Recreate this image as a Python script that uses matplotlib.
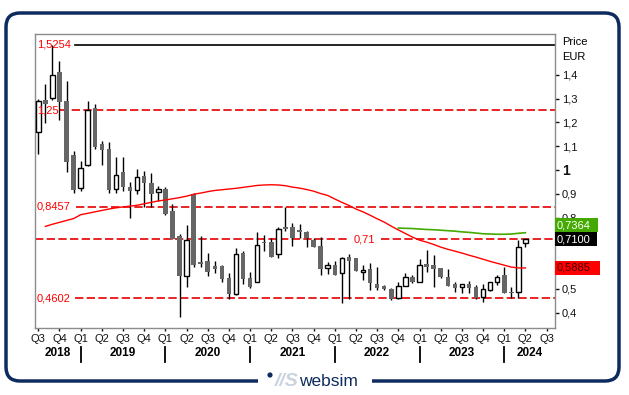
import matplotlib
matplotlib.use('Agg')
import matplotlib.pyplot as plt
import matplotlib.transforms as mtransforms
from matplotlib.patches import FancyBboxPatch, Rectangle, Circle

plt.rcParams['font.family'] = ['Liberation Sans', 'DejaVu Sans']

# monthly candles, Jul 2018 .. Apr 2024 (index 0 = Jul 2018)
opens = [1.158, 1.294, 1.301, 1.413, 1.291, 1.063, 0.924, 1.021, 1.261, 1.109,
         1.088, 0.919, 0.993, 0.929, 0.917, 0.976, 0.944, 0.906, 0.920, 0.829,
         0.723, 0.556, 0.898, 0.613, 0.619, 0.598, 0.598, 0.547, 0.478, 0.651,
         0.547, 0.531, 0.697, 0.697, 0.646, 0.760, 0.760, 0.748, 0.738, 0.706,
         0.681, 0.587, 0.600, 0.566, 0.633, 0.629, 0.570, 0.584, 0.521, 0.513,
         0.501, 0.461, 0.514, 0.549, 0.531, 0.604, 0.601, 0.587, 0.549, 0.520,
         0.507, 0.520, 0.507, 0.468, 0.494, 0.531, 0.559, 0.489, 0.486, 0.695]
highs = [1.298, 1.361, 1.5254, 1.458, 1.375, 1.081, 1.039, 1.291, 1.277, 1.120,
         1.116, 1.053, 1.053, 0.951, 1.004, 0.994, 0.986, 0.934, 0.930, 0.856,
         0.730, 0.769, 0.902, 0.723, 0.650, 0.618, 0.600, 0.566, 0.674, 0.660,
         0.571, 0.741, 0.727, 0.715, 0.759, 0.843, 0.777, 0.773, 0.745, 0.713,
         0.720, 0.615, 0.619, 0.636, 0.647, 0.631, 0.601, 0.608, 0.594, 0.518,
         0.503, 0.531, 0.566, 0.558, 0.626, 0.664, 0.643, 0.589, 0.583, 0.531,
         0.522, 0.534, 0.517, 0.520, 0.530, 0.559, 0.591, 0.510, 0.706, 0.712]
lows = [1.067, 1.196, 1.295, 1.210, 0.990, 0.905, 0.910, 1.015, 1.090, 1.021,
        0.905, 0.902, 0.913, 0.797, 0.899, 0.846, 0.843, 0.871, 0.812, 0.708,
        0.384, 0.507, 0.594, 0.594, 0.556, 0.569, 0.531, 0.458, 0.476, 0.520,
        0.506, 0.528, 0.661, 0.633, 0.629, 0.745, 0.682, 0.713, 0.678, 0.675,
        0.559, 0.562, 0.557, 0.443, 0.457, 0.574, 0.538, 0.496, 0.496, 0.496,
        0.454, 0.459, 0.512, 0.524, 0.528, 0.570, 0.510, 0.545, 0.512, 0.489,
        0.482, 0.482, 0.457, 0.447, 0.492, 0.517, 0.482, 0.461, 0.461, 0.678]
closes = [1.291, 1.277, 1.399, 1.287, 1.035, 0.917, 1.007, 1.252, 1.095, 1.085,
          0.917, 0.980, 0.930, 0.913, 0.972, 0.944, 0.899, 0.920, 0.815, 0.710,
          0.556, 0.706, 0.601, 0.605, 0.570, 0.585, 0.543, 0.478, 0.647, 0.543,
          0.510, 0.684, 0.695, 0.636, 0.751, 0.753, 0.716, 0.738, 0.713, 0.678,
          0.584, 0.600, 0.559, 0.629, 0.619, 0.576, 0.580, 0.527, 0.504, 0.499,
          0.460, 0.511, 0.549, 0.528, 0.601, 0.594, 0.584, 0.549, 0.514, 0.506,
          0.520, 0.506, 0.464, 0.499, 0.528, 0.552, 0.484, 0.483, 0.675, 0.710]

# long moving average (red), starts at index 1
ma_red = [0.763, 0.772, 0.780, 0.788, 0.796, 0.812, 0.818, 0.824, 0.830, 0.836,
          0.841, 0.845, 0.848, 0.852, 0.858, 0.864, 0.870, 0.874, 0.879, 0.884,
          0.890, 0.898, 0.903, 0.909, 0.914, 0.917, 0.920, 0.923, 0.927, 0.931,
          0.935, 0.937, 0.938, 0.937, 0.934, 0.928, 0.924, 0.918, 0.911, 0.901,
          0.893, 0.878, 0.864, 0.851, 0.836, 0.824, 0.810, 0.795, 0.781, 0.764,
          0.748, 0.733, 0.718, 0.705, 0.697, 0.687, 0.676, 0.667, 0.659, 0.651,
          0.642, 0.634, 0.625, 0.616, 0.608, 0.600, 0.592, 0.5885, 0.5885]
# shorter moving average (green), starts at index 51
ma_green = [0.756, 0.755, 0.754, 0.752, 0.750, 0.749, 0.747, 0.745, 0.743, 0.740,
            0.738, 0.735, 0.732, 0.731, 0.730, 0.730, 0.731, 0.734, 0.7364]

levels = [1.5254, 1.25, 0.8457, 0.71, 0.4602]
level_labels = ['1,5254', '1,25', '0,8457', '0,71', '0,4602']

quarter_labels = ['Q3', 'Q4'] + ['Q1', 'Q2', 'Q3', 'Q4'] * 5 + ['Q1', 'Q2', 'Q3']
years = ['2018', '2019', '2020', '2021', '2022', '2023', '2024']

ytick_vals = [0.4, 0.5, 0.6, 0.7, 0.8, 0.9, 1.0, 1.1, 1.2, 1.3, 1.4]
hidden_ticks = [0.6, 0.7]  # covered by the price boxes in the original

navy = '#0d2b5e'
red = '#ff0000'

fig = plt.figure(figsize=(6.29, 3.95), dpi=100)

# frame in pixel coordinates
bg = fig.add_axes([0, 0, 1, 1], zorder=0)
bg.set_xlim(0, 629)
bg.set_ylim(395, 0)
bg.axis('off')
bg.add_patch(FancyBboxPatch((6, 13), 613, 368, boxstyle='round,pad=0,rounding_size=14',
                            fc='white', ec=navy, lw=2.5))
bg.add_patch(Rectangle((258, 370), 114, 22, fc='white', ec='none'))
bg.add_patch(Circle((270, 375), 2.6, fc=navy, ec='none'))
bg.text(287, 382, '//S', fontsize=14, fontweight='bold', style='italic', color='#c9d3e0',
        ha='center', va='center')
bg.text(299, 382, 'websim', fontsize=12.5, color=navy, ha='left', va='center')

ax = fig.add_axes([35 / 629, 67 / 395, 520 / 629, 294 / 395], zorder=1)
ax.set_xlim(-0.47, 73.19)
ax.set_ylim(0.3361, 1.5714)
for s in ax.spines.values():
    s.set_color('#8c8c8c')
    s.set_linewidth(1)

# candles
n = len(opens)
xs = list(range(n))
ax.vlines(xs, lows, highs, color='black', lw=1.0, zorder=3)
for i in xs:
    o, c = opens[i], closes[i]
    bottom = min(o, c)
    h = max(abs(c - o), 0.004)
    if c >= o:
        ax.bar(i, h, bottom=bottom, width=0.64, color='white', edgecolor='black', lw=1.0, zorder=4)
    else:
        ax.bar(i, h, bottom=bottom, width=0.64, color='#666666', edgecolor='none', zorder=4)

# moving averages
ax.plot(range(1, 1 + len(ma_red)), ma_red, color=red, lw=1.0, zorder=5)
ax.plot(range(51, 51 + len(ma_green)), ma_green, color='#44aa00', lw=1.2, zorder=5)

# horizontal levels
trans = mtransforms.blended_transform_factory(ax.transAxes, ax.transData)
ax.axhline(levels[0], xmin=40 / 520, color='black', lw=1.2, zorder=2)
dash = (0, (5, 2))
ax.axhline(levels[1], xmin=25 / 520, color='#e60000', lw=1.2, ls=dash, zorder=2)
ax.axhline(levels[2], xmin=41 / 520, color='#e60000', lw=1.2, ls=dash, zorder=2)
ax.axhline(levels[3], xmax=313 / 520, color='#e60000', lw=1.2, ls=dash, zorder=2)
ax.axhline(levels[3], xmin=346 / 520, color='#e60000', lw=1.2, ls=dash, zorder=2)
ax.axhline(levels[4], xmin=40 / 520, color='#e60000', lw=1.2, ls=dash, zorder=2)
for k, (v, lab) in enumerate(zip(levels, level_labels)):
    if k == 3:
        ax.text(329 / 520, v, lab, transform=trans, color=red, fontsize=8,
                ha='center', va='center', zorder=6)
    else:
        ax.text(0.004, v, lab, transform=trans, color=red, fontsize=8,
                ha='left', va='center', zorder=6)

# right axis
ax.yaxis.tick_right()
ax.set_yticks(ytick_vals)
ax.set_yticklabels(['' if v in hidden_ticks else ('%g' % v).replace('.', ',')
                    for v in ytick_vals])
ax.tick_params(axis='y', length=3, width=1, pad=2, labelsize=8, colors='#111111')
for t in ax.get_yticklabels():
    if t.get_text() == '1':
        t.set_fontweight('bold')
        t.set_fontsize(10)
ax.text(1.0135, 0.973, 'Price', transform=ax.transAxes, fontsize=8, va='center', ha='left')
ax.text(1.0135, 0.922, 'EUR', transform=ax.transAxes, fontsize=8, va='center', ha='left')

# price boxes on the right
box_h = 14 / 238
boxes = [(0.71 + box_h, '0,7364', '#44aa00', 'white', 43),
         (closes[-1], '0,7100', 'black', 'white', 42),
         (ma_red[-1], '0,5885', '#ff0000', '#4a0000', 45)]
for yc, lab, fc, tc, w in boxes:
    ax.add_patch(Rectangle((1.0, yc - box_h / 2), w / 520, box_h, transform=trans,
                           fc=fc, ec='none', clip_on=False, zorder=7))
    ax.text(1.004, yc, lab, transform=trans, color=tc, fontsize=8,
            ha='left', va='center', zorder=8, clip_on=False)

# x axis: quarters and years
qpos = list(range(0, 3 * len(quarter_labels), 3))
ax.set_xticks(qpos)
ax.set_xticklabels(quarter_labels)
ax.tick_params(axis='x', length=2, width=1, pad=2, labelsize=8, colors='#111111')
xtrans = mtransforms.blended_transform_factory(ax.transData, ax.transAxes)
year_starts = [-0.47, 6, 18, 30, 42, 54, 66, 73.19]
for k, y in enumerate(years):
    mid = (year_starts[k] + year_starts[k + 1]) / 2
    ax.text(mid, -0.085, y, transform=xtrans, fontsize=8.5, fontweight='bold',
            ha='center', va='center')
for xs_ in year_starts[1:-1]:
    ax.plot([xs_, xs_], [-0.065, -0.116], transform=xtrans, color='black', lw=1.3,
            clip_on=False)

fig.savefig('out.png', dpi=100)
